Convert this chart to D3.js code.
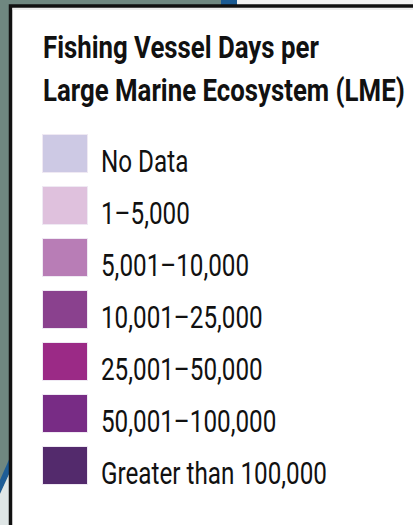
<!DOCTYPE html>
<html>
<head>
<meta charset="utf-8">
<script src="https://cdn.jsdelivr.net/npm/d3@7"></script>
<style>
  body { margin: 0; background: #fff; }
  svg { display: block; }
</style>
</head>
<body>
<script>
/* Legend data */
var titleLines = ["Fishing Vessel Days per", "Large Marine Ecosystem (LME)"];
var classes = ["No Data", "1\u20135,000", "5,001\u201310,000", "10,001\u201325,000",
               "25,001\u201350,000", "50,001\u2013100,000", "Greater than 100,000"];
var classColors = ["#cdc9e4", "#dfc1dd", "#b87db6", "#8a418e",
                   "#9b2a86", "#782c85", "#532a6c"];

var width = 413,
    height = 525;

var svg = d3.select("body").append("svg")
    .attr("width", width)
    .attr("height", height);

/* map showing behind the legend box */
svg.append("rect")
    .attr("width", width).attr("height", height)
    .attr("fill", "#6f8780");
svg.append("rect") // strip of land/coast at top right
    .attr("x", 236).attr("y", 0).attr("width", width).attr("height", 8)
    .attr("fill", "#f2f2f2");
svg.append("rect")
    .attr("x", 221).attr("y", 0).attr("width", 16).attr("height", 8)
    .attr("fill", "#1b5a92");
svg.append("path") // coastline in bottom left corner
    .attr("d", "M0,480 L11,455 L11,470 L0,494 Z")
    .attr("fill", "#1e5d96");
svg.append("path")
    .attr("d", "M0,494 L11,470 L11,525 L0,525 Z")
    .attr("fill", "#dfe6e6");

/* legend box */
svg.append("rect")
    .attr("x", 10.5).attr("y", 6)
    .attr("width", width + 10).attr("height", height + 10)
    .attr("fill", "#fff")
    .attr("stroke", "#111")
    .attr("stroke-width", 3.5);
svg.append("line") // faint shadow under top border
    .attr("x1", 12).attr("x2", width)
    .attr("y1", 9).attr("y2", 9)
    .attr("stroke", "#ddd").attr("stroke-width", 1);

var fontFamily = "Roboto, 'Liberation Sans', sans-serif";

/* title */
var title = svg.append("g");
var titleText = title.selectAll("text")
    .data(titleLines)
    .enter().append("text")
    .attr("x", 0)
    .attr("y", function(d, i) { return 58 + i * 43; })
    .attr("font-family", fontFamily)
    .attr("font-weight", "bold")
    .attr("font-size", 32)
    .attr("fill", "#111")
    .text(function(d) { return d; });

// squeeze to look like the condensed face used in the original
var titleW = titleText.nodes()[1].getComputedTextLength();
title.attr("transform", "translate(43,0) scale(" + (362 / titleW) + ",1)");

/* rows */
var y = d3.scaleBand()
    .domain(classes)
    .range([134, 484])
    .paddingInner(14 / 52)
    .paddingOuter(0);

var color = d3.scaleOrdinal()
    .domain(classes)
    .range(classColors);

svg.append("g").selectAll("rect")
    .data(classes)
    .enter().append("rect")
    .attr("x", 42.5)
    .attr("y", function(d) { return y(d) + 0.5; })
    .attr("width", 45)
    .attr("height", y.bandwidth())
    .attr("fill", function(d) { return color(d); })
    .attr("stroke", "#efe9f3")
    .attr("stroke-width", 1);

var labels = svg.append("g");
var labelText = labels.selectAll("text")
    .data(classes)
    .enter().append("text")
    .attr("x", 0)
    .attr("y", function(d) { return y(d) + 38; })
    .attr("font-family", fontFamily)
    .attr("font-size", 32)
    .attr("fill", "#111")
    .text(function(d) { return d; });

var longW = labelText.nodes()[6].getComputedTextLength();
labels.attr("transform", "translate(101,0) scale(" + (226 / longW) + ",1)");
</script>
</body>
</html>
